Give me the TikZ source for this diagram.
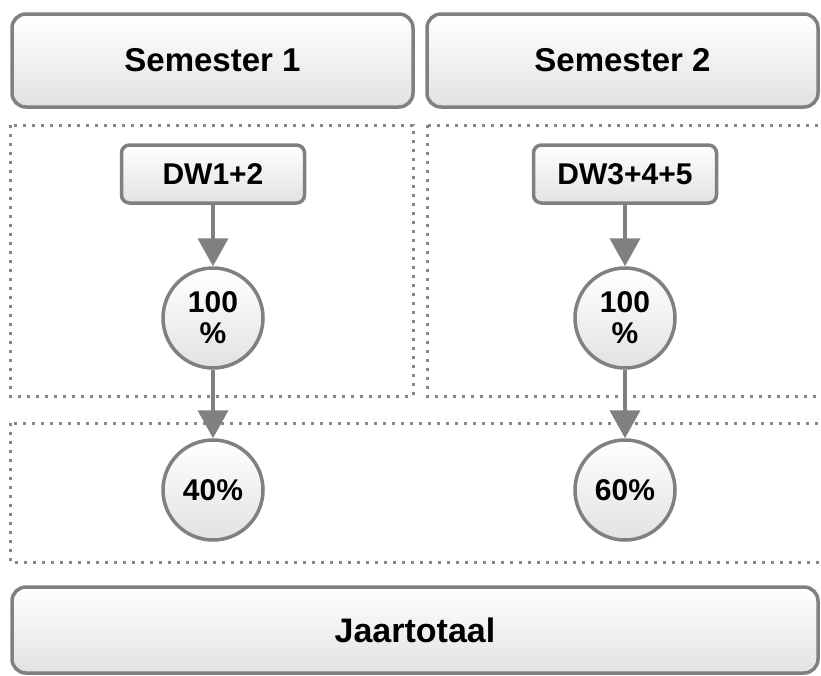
\documentclass[tikz,border=0pt]{standalone}
\usepackage{fontspec}
\setmainfont{Liberation Sans}
\usetikzlibrary{arrows.meta}
\definecolor{edge}{RGB}{128,128,128}
\definecolor{dotc}{RGB}{135,135,135}
\definecolor{fillb}{RGB}{226,226,226}
\begin{document}
\begin{tikzpicture}[x=1pt,y=-1pt,
  bigbox/.style={draw=edge,line width=3.5pt,rounded corners=14pt,top color=white,bottom color=fillb,font=\fontsize{33}{35}\selectfont\bfseries},
  smallbox/.style={draw=edge,line width=3.5pt,rounded corners=8pt,top color=white,bottom color=fillb,minimum width=183pt,minimum height=58pt,inner sep=0pt,font=\fontsize{30}{32}\selectfont\bfseries},
  pct/.style={circle,draw=edge,line width=3.5pt,top color=white,bottom color=fillb,minimum size=100pt,inner sep=0pt,align=center,font=\fontsize{30}{32}\selectfont\bfseries},
  group/.style={draw=dotc,line width=3pt,dash pattern=on 3pt off 6pt},
  flow/.style={draw=edge,line width=4pt,-{Triangle[width=30pt,length=28pt]}}]
\useasboundingbox (0,0) rectangle (821,675);
% top headers
\node[bigbox,minimum width=401pt,minimum height=93pt] (sem1) at (212.5,60.5) {Semester 1};
\node[bigbox,minimum width=391pt,minimum height=93pt] (sem2) at (622.5,60.5) {Semester 2};
% dotted groups
\draw[group] (10,125) rectangle (413,396);
\draw[group] (427,125) rectangle (824,396);
\draw[group] (10,423) rectangle (824,562);
% bottom
\node[bigbox,minimum width=806pt,minimum height=86pt,font=\fontsize{34}{36}\selectfont\bfseries] (jaar) at (415,630) {Jaartotaal};
% column 1
\node[smallbox] (dw1) at (213,174) {DW1+2};
\node[pct] (c1) at (213,318) {100\\[-1pt]\%};
\node[pct] (p1) at (213,490) {40\%};
% column 2
\node[smallbox] (dw2) at (625,174) {DW3+4+5};
\node[pct] (c2) at (625,318) {100\\[-1pt]\%};
\node[pct] (p2) at (625,490) {60\%};
% arrows
\draw[flow] (dw1) -- (c1);
\draw[flow] (c1) -- (p1);
\draw[flow] (dw2) -- (c2);
\draw[flow] (c2) -- (p2);
\end{tikzpicture}
\end{document}
